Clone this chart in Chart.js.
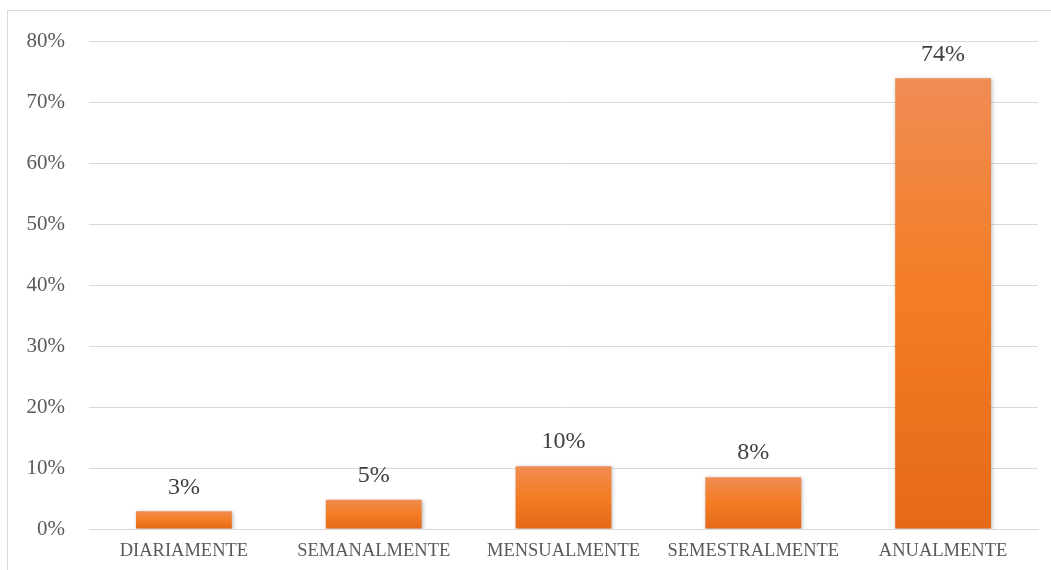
<!DOCTYPE html>
<html>
<head>
<meta charset="utf-8">
<script src="https://cdn.jsdelivr.net/npm/chart.js@4/dist/chart.umd.min.js"></script>
<style>
  html, body { margin: 0; padding: 0; background: #fff; overflow: hidden; }
  #wrap { position: relative; width: 1051px; height: 570px; }
  #frame { position: absolute; left: 7px; top: 10px; width: 1100px; height: 600px; border: 1px solid #d9d9d9; box-sizing: border-box; }
  canvas { position: absolute; left: 0; top: 0; }
</style>
</head>
<body>
<div id="wrap">
  <div id="frame"></div>
  <canvas id="c" width="1051" height="570"></canvas>
</div>
<script>
const categories = ["DIARIAMENTE", "SEMANALMENTE", "MENSUALMENTE", "SEMESTRALMENTE", "ANUALMENTE"];
const values = [2.9, 4.8, 10.3, 8.5, 73.9];
const valueLabels = ["3%", "5%", "10%", "8%", "74%"];
const yTicks = [0, 10, 20, 30, 40, 50, 60, 70, 80];

const FONT = "'Liberation Serif', 'Times New Roman', serif";

function barGradient(context) {
  const chart = context.chart;
  const yScale = chart.scales && chart.scales.y;
  if (!chart.chartArea || !yScale || context.dataIndex === undefined) return '#F27B22';
  const v = context.raw;
  const top = yScale.getPixelForValue(v);
  const bottom = yScale.getPixelForValue(0);
  if (!isFinite(top) || !isFinite(bottom) || top === bottom) return '#F27B22';
  const g = chart.ctx.createLinearGradient(0, top, 0, bottom);
  g.addColorStop(0, '#F08C54');
  g.addColorStop(0.5, '#F47C22');
  g.addColorStop(1, '#E46A1A');
  return g;
}

const shadowPlugin = {
  id: 'barShadow',
  beforeDatasetsDraw(chart) {
    const ctx = chart.ctx;
    ctx.save();
    ctx.shadowColor = 'rgba(0,0,0,0.28)';
    ctx.shadowBlur = 4;
    ctx.shadowOffsetX = 1;
    ctx.shadowOffsetY = 1;
  },
  afterDatasetsDraw(chart) {
    chart.ctx.restore();
  }
};

const labelPlugin = {
  id: 'valueLabels',
  afterDatasetsDraw(chart) {
    const ctx = chart.ctx;
    const meta = chart.getDatasetMeta(0);
    ctx.save();
    ctx.font = "24px " + FONT;
    ctx.fillStyle = '#404040';
    ctx.textAlign = 'center';
    ctx.textBaseline = 'bottom';
    meta.data.forEach((bar, i) => {
      ctx.fillText(valueLabels[i], bar.x, bar.y - 12);
    });
    ctx.restore();
  }
};

new Chart(document.getElementById('c'), {
  type: 'bar',
  data: {
    labels: categories,
    datasets: [{
      data: values,
      backgroundColor: barGradient,
      borderWidth: 0,
      barPercentage: 0.505,
      categoryPercentage: 1.0
    }]
  },
  options: {
    responsive: false,
    animation: false,
    devicePixelRatio: 1,
    layout: { padding: { top: 41, right: 13, left: 0, bottom: 0 } },
    plugins: {
      legend: { display: false },
      tooltip: { enabled: false }
    },
    scales: {
      x: {
        grid: { display: false, drawTicks: false },
        border: { display: true, color: '#d9d9d9', width: 1 },
        ticks: {
          color: '#595959',
          font: { family: FONT, size: 18.5 },
          padding: 11,
          maxRotation: 0,
          autoSkip: false
        },
        afterFit(scale) { scale.height = 41; }
      },
      y: {
        min: 0,
        max: 80,
        afterBuildTicks(scale) { scale.ticks = yTicks.map(v => ({ value: v })); },
        grid: { color: '#d9d9d9', drawTicks: false, lineWidth: 1 },
        border: { display: false },
        ticks: {
          color: '#595959',
          font: { family: FONT, size: 21 },
          padding: 24,
          callback: v => v + '%'
        },
        afterFit(scale) { scale.width = 89; }
      }
    }
  },
  plugins: [shadowPlugin, labelPlugin]
});
</script>
</body>
</html>
